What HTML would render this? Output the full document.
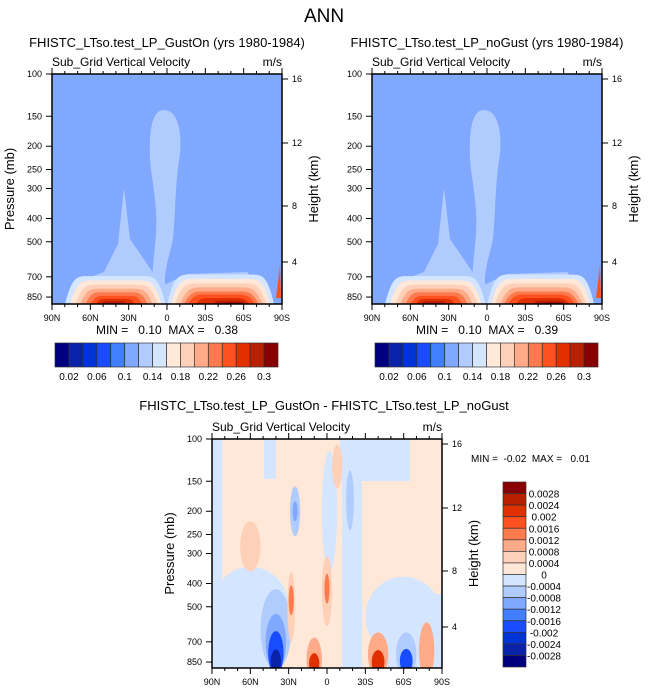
<!DOCTYPE html>
<html><head><meta charset="utf-8"><style>
body{margin:0;background:#fff;}
svg{display:block;font-family:"Liberation Sans",Arial,sans-serif;}
text{white-space:pre;}
</style></head><body>
<svg id="chart" width="648" height="693" viewBox="0 0 648 693" xmlns="http://www.w3.org/2000/svg" xml:space="preserve">
<text x="324" y="22" font-size="19" text-anchor="middle">ANN</text>
</svg>
<script>
const NS="http://www.w3.org/2000/svg";
const svg=document.getElementById('chart');
// ---- data ----
const topColors=["#00007f","#0a22a8","#0033d6","#1a4cff","#4080ff","#80a8ff","#b0ccff","#d4e6ff","#ffe8d8","#ffd0b8","#ffaa88","#ff7a4c","#ff5020","#e03000","#b82000","#880000"];
const topLabels=["0.02","0.06","0.1","0.14","0.18","0.22","0.26","0.3"];
const diffLabels=["0.0028","0.0024","0.002","0.0016","0.0012","0.0008","0.0004","0","-0.0004","-0.0008","-0.0012","-0.0016","-0.002","-0.0024","-0.0028"];
const pressTicks=[100,150,200,250,300,400,500,700,850];
const heightTicks=[16,12,8,4];
const latTicks=["90N","60N","30N","0","30S","60S","90S"];
// top panel contour bands: [northLat, southLat, topPressure, colorIndex]
const humps=[[80,1,695,7],[76,4,725,8],[72,7,755,9],[68,11,785,10],[64,15,812,11],[60,19,840,12],[56,25,865,13],[52,31,885,14],
[0,-84,685,7],[-3,-81,715,8],[-6,-78,745,9],[-10,-75,775,10],[-13,-72,805,11],[-16,-69,830,12],[-22,-65,858,13],[-36,-62,880,14],[-44,-60,897,15]];
// diff panel patches: [lat, pressure, halfWidthDeg, halfHeightPx, colorIndex]
const patches=[[-2,200,6,60,7],[60,500,30,40,7],[-60,550,30,40,7],[40,620,12,40,6],[40,700,8,28,5],[40,780,6,22,3],[40,845,4,12,1],
[10,830,6,22,10],[10,860,4,10,13],[-40,790,8,22,10],[-40,850,5,12,13],[-62,790,8,22,6],[-62,840,5,12,3],[28,500,3,35,9],[28,470,2,15,11],
[0,430,4,35,9],[0,420,2,15,11],[25,200,4,25,6],[25,200,2,10,5],[-18,180,3,30,6],[60,280,8,25,9],[-8,130,4,22,9],[-78,760,6,28,10]];
// ---- helpers ----
function el(tag,attrs,parent){const e=document.createElementNS(NS,tag);for(const k in attrs)e.setAttribute(k,attrs[k]);(parent||svg).appendChild(e);return e;}
function yP(p,top){return top+Math.log10(p/100)*240;}
function panel(x0,y0,w,h,mode,name,showP){
  const xL=lat=>x0+(90-lat)/180*w;
  const g=el('g',{});
  
  
  const cid='clip'+name;
  const cp=el('clipPath',{id:cid},g);el('rect',{x:x0,y:y0,width:w,height:h},cp);
  const f=el('g',{'clip-path':'url(#'+cid+')'},g);
  if(mode==='top'){
    el('rect',{x:x0,y:y0,width:w,height:h,fill:topColors[5]},f);
    el('path',{d:`M${x0+112},${y0+36} C${x0+99},${y0+36} ${x0+97},${y0+60} ${x0+98},${y0+85} C${x0+100},${y0+110} ${x0+106},${y0+130} ${x0+104},${y0+160} C${x0+102},${y0+185} ${x0+99},${y0+200} ${x0+102},${y0+210} L${x0+113},${y0+212} C${x0+112},${y0+195} ${x0+118},${y0+180} ${x0+121},${y0+165} C${x0+124},${y0+130} ${x0+123},${y0+110} ${x0+128},${y0+80} C${x0+130},${y0+55} ${x0+125},${y0+36} ${x0+112},${y0+36} Z`,fill:topColors[6]},f);
    el('path',{d:`M${x0+15},${y0+h} L${x0+25},${y0+208} L${x0+52},${y0+198} L${x0+66},${y0+170} L${x0+72},${y0+114} L${x0+78},${y0+165} L${x0+95},${y0+190} L${x0+110},${y0+212} L${x0+135},${y0+200} L${x0+195},${y0+198} L${x0+210},${y0+215} L${x0+218},${y0+h} Z`,fill:topColors[6]},f);
    humps.forEach(d=>{const xl=xL(d[0]),xr=xL(d[1]),yt=yP(d[2],y0),yb=y0+h+1,k=Math.min(24,(xr-xl)/3.5);
      const e=el('path',{d:`M${xl},${yb} C${xl+k*0.3},${yt} ${xl+k*0.5},${yt} ${xl+k},${yt} L${xr-k},${yt} C${xr-k*0.5},${yt} ${xr-k*0.3},${yt} ${xr},${yb} Z`,fill:topColors[d[3]]},f);
      
      });
    el('path',{d:`M${x0+w-6},${y0+h-6} L${x0+w-2},${y0+192} L${x0+w-1},${y0+h-6} Z`,fill:topColors[12]},f);
  } else {
    el('rect',{x:x0,y:y0,width:w,height:h,fill:topColors[8]},f);
    el('rect',{x:x0,y:y0,width:10,height:190,fill:topColors[7]},f);
    el('rect',{x:x0+52,y:y0,width:12,height:40,fill:topColors[7]},f);
    el('rect',{x:x0+128,y:y0,width:70,height:42,fill:topColors[7]},f);
    el('rect',{x:x0+130,y:y0,width:20,height:h,fill:topColors[7]},f);
    el('rect',{x:x0,y:y0+160,width:70,height:70,fill:topColors[7]},f);
    el('rect',{x:x0+160,y:y0+155,width:70,height:75,fill:topColors[7]},f);
    patches.forEach(d=>{const e=el('ellipse',{cx:xL(d[0]),cy:yP(d[1],y0),rx:d[2]/180*w,ry:d[3],fill:topColors[d[4]]},f);
      
      });
  }
  el('rect',{x:x0,y:y0,width:w,height:h,fill:'none',stroke:'#000','stroke-width':1.5},g);
  for(let i=0;i<=18;i++){const x=x0+i*w/18,len=(i%3===0)?6:3;
    el('line',{x1:x,y1:y0+h,x2:x,y2:y0+h+len,stroke:'#000'},g);el('line',{x1:x,y1:y0,x2:x,y2:y0-len,stroke:'#000'},g);}
  latTicks.forEach((t,i)=>{const tx=el('text',{x:x0+i*w/6,y:y0+h+17,'font-size':9,'text-anchor':'middle'},g);tx.textContent=t;});
  pressTicks.forEach(p=>{const y=yP(p,y0);el('line',{x1:x0,y1:y,x2:x0-6,y2:y,stroke:'#000'},g);
    const tx=el('text',{x:x0-10,y:y+3,'font-size':9,'text-anchor':'end'},g);tx.textContent=p;});
  const hpos=[5,69,132,188];
  heightTicks.forEach((hv,i)=>{const y=y0+hpos[i];el('line',{x1:x0+w,y1:y,x2:x0+w+6,y2:y,stroke:'#000'},g);
    const tx=el('text',{x:x0+w+10,y:y+3,'font-size':9},g);tx.textContent=hv;});
  let t;
  if(showP){t=el('text',{x:-(y0+h/2),y:x0-38,'font-size':13,'text-anchor':'middle',transform:'rotate(-90)'},g);t.textContent='Pressure (mb)';}
  t=el('text',{x:-(y0+h/2),y:x0+w+36,'font-size':13,'text-anchor':'middle',transform:'rotate(-90)'},g);t.textContent='Height (km)';
  t=el('text',{x:x0,y:y0-8,'font-size':12},g);t.textContent='Sub_Grid Vertical Velocity';
  t=el('text',{x:x0+w,y:y0-8,'font-size':12,'text-anchor':'end'},g);t.textContent='m/s';
}
function hbar(x0,y0,w,h,name){
  const g=el('g',{});
  const bw=w/topColors.length;
  topColors.forEach((c,i)=>{const r=el('rect',{x:x0+i*bw,y:y0,width:bw,height:h,fill:c,stroke:'#333','stroke-width':0.7},g);
    });
  topLabels.forEach((l,i)=>{const t=el('text',{x:x0+(2*i+1)*bw,y:y0+h+13,'font-size':10,'text-anchor':'middle'},g);t.textContent=l;});
}
function vbar(x0,y0,w,h,name){
  const g=el('g',{});
  const bh=h/topColors.length;
  topColors.slice().reverse().forEach((c,i)=>{const r=el('rect',{x:x0,y:y0+i*bh,width:w,height:bh,fill:c,stroke:'#333','stroke-width':0.7},g);
    });
  diffLabels.forEach((l,i)=>{const t=el('text',{x:x0+w+18,y:y0+(i+1)*bh+4,'font-size':10,'text-anchor':'middle'},g);t.textContent=l;});
}
function txt(x,y,s,size,anchor,name){const t=el('text',{x:x,y:y,'font-size':size,'text-anchor':anchor||'start'});t.textContent=s;
  }
txt(167,47,'FHISTC_LTso.test_LP_GustOn (yrs 1980-1984)',13,'middle','left-panel-title');
txt(487,47,'FHISTC_LTso.test_LP_noGust (yrs 1980-1984)',13,'middle','right-panel-title');
panel(52,74,230,230,'top','left-panel',true);
panel(372,74,230,230,'top','right-panel',false);
txt(167,334,'MIN =   0.10  MAX =   0.38',12,'middle','left-min-max');
txt(487,334,'MIN =   0.10  MAX =   0.39',12,'middle','right-min-max');
hbar(55,343,223,24,'left-colorbar');
hbar(375,343,223,24,'right-colorbar');
txt(324,410,'FHISTC_LTso.test_LP_GustOn - FHISTC_LTso.test_LP_noGust',13,'middle','diff-panel-title');
panel(212,439,230,229,'diff','diff-panel',true);
txt(471,462,'MIN =  -0.02  MAX =   0.01',10,'start','diff-min-max');
vbar(503,482,23,185,'diff-colorbar');
</script>
</body></html>
